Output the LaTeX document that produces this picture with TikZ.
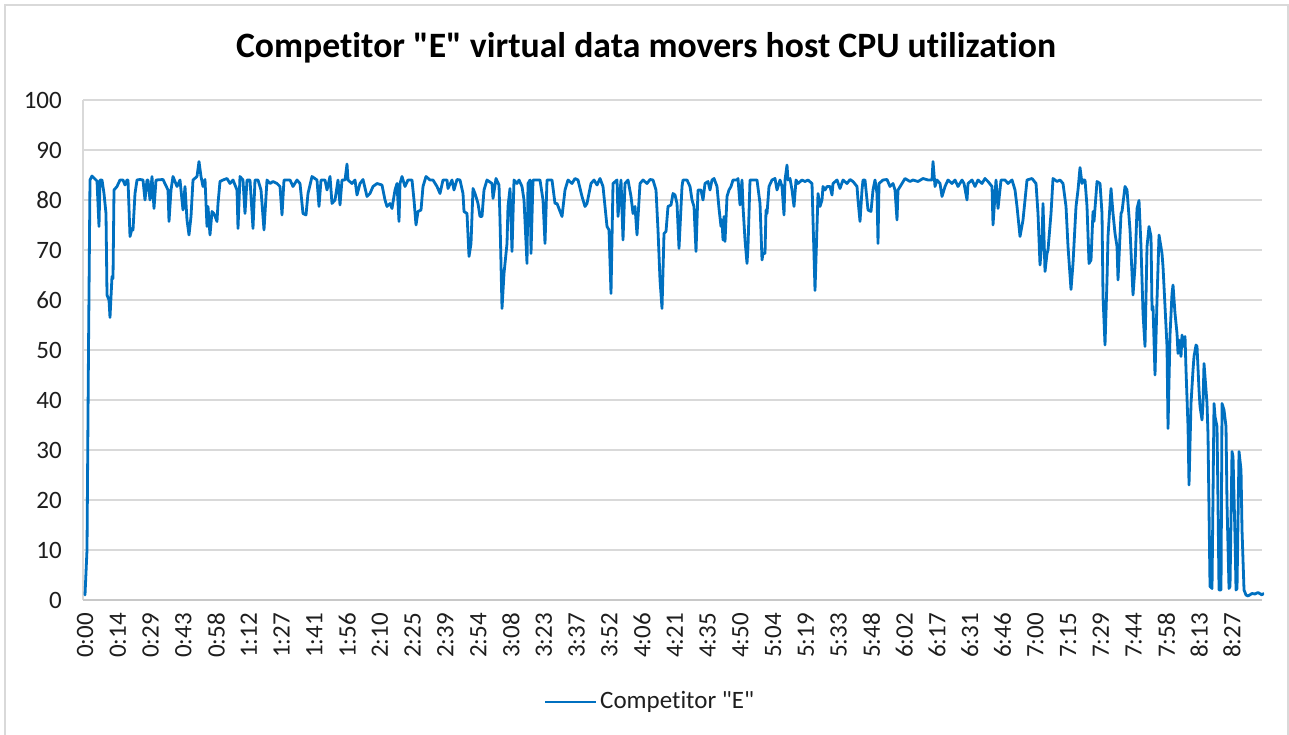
\documentclass[tikz,border=0pt]{standalone}
\usepackage{fontspec}
\setmainfont{Carlito}[Ligatures={TeXOff,NoCommon}]
\definecolor{series}{RGB}{0,112,192}
\definecolor{gridc}{RGB}{217,217,217}
\definecolor{axisc}{RGB}{200,200,200}
\definecolor{txtc}{RGB}{30,30,30}
\tikzset{
  serieslines/.style={draw=series,line width=2.8pt,line join=round,line cap=round},
  gridline/.style={draw=gridc,line width=1.3pt},
  ticklab/.style={font=\fontsize{25}{25}\selectfont,text=txtc,inner sep=0pt},
  titlelab/.style={font=\fontsize{35.7}{35.7}\selectfont\bfseries,text=black,inner sep=0pt},
  framebox/.style={draw=gridc,line width=2pt}
}
\begin{document}
\begin{tikzpicture}[x={(1pt,0)},y={(0,-1pt)}]
\useasboundingbox (0,0) rectangle (1289,735);
\fill[white] (0,0) rectangle (1289,735);
% outer chart frame
\draw[framebox] (5,740) -- (5,5) -- (1288,5) -- (1288,740);
% title
\node[titlelab] (title) at (646,48) {Competitor "E" virtual data movers host CPU utilization};
% gridlines and y labels
\foreach \v [count=\k from 0] in {100,90,80,70,60,50,40,30,20,10} {
  \draw[gridline] (83,{100+50*\k}) -- (1262,{100+50*\k});
  \node[ticklab,anchor=east] (ylab\v) at (62,{100+50*\k}) {\v};
}
\node[ticklab,anchor=east] (ylab0) at (62,600) {0};
\draw[gridline] (83,100) -- (83,600);
\draw[draw=axisc,line width=1.3pt] (83,600) -- (1262,600);
% x labels
\foreach \lab [count=\i from 0] in {0:00,0:14,0:29,0:43,0:58,1:12,1:27,1:41,1:56,2:10,2:25,2:39,2:54,3:08,3:23,3:37,3:52,4:06,4:21,4:35,4:50,5:04,5:19,5:33,5:48,6:02,6:17,6:31,6:46,7:00,7:15,7:29,7:44,7:58,8:13,8:27} {
  \node[ticklab,rotate=90,anchor=east] (xlab\i) at ({85+32.77*\i},613) {\lab};
}
% data series
\begin{scope}[shift={(0pt,-600pt)},y={(0,5pt)}]
\draw[serieslines] plot coordinates {
(85,1) (87,10) (88.5,50) (90,84) (92,84.8) (97,83.8) (99,74.7) (100,84) (102,84) (104,81.3) (106,77.3) (107,61) (109,60) (110,56.5) (112,64.7) (113,64.3) (114,82) (117,82.7) (120,84) (123,84) (125,83) (127,84) (128,84) (130,72.7) (132,74.3) (133,74) (135,81.3) (137,84) (140,84.1) (143,84) (145,80) (147,84) (148,84) (150,80) (152,84.7) (154,78.3) (156,84) (163,84.1) (168,82) (169,75.7) (171,82) (173,84.7) (177,82.7) (180,84) (183,78) (185,82.7) (187,76) (189,73) (191,76.7) (193,84) (197,84.7) (199,87.7) (201,84.7) (203,82.7) (205,84.1) (207,74.7) (208,78.7) (210,73) (212,77.7) (214,77.3) (217,75.7) (218,79.3) (220,83.7) (223,84) (227,84.3) (230,83.3) (233,84) (237,82) (238,74.3) (240,84.7) (243,84) (245,77.3) (247,84) (250,84) (253,74.3) (255,84) (258,84) (261,82) (264,74) (267,84) (270,83.3) (273,83.7) (277,83.3) (280,82.7) (282,77) (284,84) (290,84) (293,82.7) (297,84) (300,83.3)
(303,77.3) (306,77) (308,81.3) (312,84.7) (317,84) (319,78.7) (321,84) (325,84) (327,82) (330,84.7) (332,79.3) (335,80) (338,84) (340,79) (342,84) (345,84) (347,87.2) (348,84) (352,83.3) (355,84) (357,81) (360,83.3) (363,84.1) (367,80.7) (370,81.3) (373,82.7) (377,83.3) (382,83) (385,80) (387,78.7) (390,79.3) (392,78.3) (395,82) (397,83.3) (399,75.7) (400,83.3) (402,84.7) (405,82.7) (408,84) (412,84) (414,80) (416,75) (418,77.7) (421,78) (423,82.7) (426,84.7) (430,84) (433,84) (437,82.7) (440,81.3) (443,84) (447,84) (448,82.3) (452,84) (454,82) (457,84.1) (460,84) (463,81.3) (464,77.7) (467,77.3) (469,68.7) (471,71.3) (473,82.3) (475,81.3) (477,80) (478,79.3) (480,76.7) (482,76.7) (484,82) (487,84) (492,83.3) (493,80.3) (496,84.3) (499,83) (500,76) (502,58.3) (504,65.3) (507,71.3) (508,78.7) (510,82.3) (512,69.7) (514,84) (517,83.3) (519,84) (522,82.7) (524,80) (527,67.3) (528,83.3) (530,84) (531,69.3) (533,84) (537,84) (540,84) (543,80) (545,71.3) (547,84) (552,84) (555,79.3) (557,79.3) (562,76.7) (565,82) (568,84) (572,83.3) (575,84.3) (578,84) (582,80.7) (585,78.7) (587,79.3) (591,83.3) (594,84) (597,83) (600,84.3) (603,82.7) (607,74.7) (609,74) (611,61.3) (613,83.3) (617,84) (618,76.7) (621,84) (623,72) (625,83.3) (628,84) (631,80.7) (633,77.3) (635,78.7) (637,73) (640,83.3) (643,84) (647,83.3) (650,84.1) (653,84) (656,82) (658,74) (660,64) (662,58.3) (664,73.3) (666,73.7) (668,78.7) (671,79) (673,81.3) (675,81) (677,79.3) (679,70.3) (682,82.7) (683,84) (687,84) (690,82.7) (692,80) (694,78.7) (696,69.7) (698,82)
(701,82) (703,80) (705,83.3) (708,83.7) (710,82) (712,84) (714,84.3) (717,82.7) (719,78.3) (721,74.7) (722,76) (723,72) (724,76.7) (725,71.7) (727,80.7) (729,82) (731,82.7) (733,84) (737,84) (738,84.3) (740,79) (742,84) (743,78.7) (745,72) (747,67.3) (748,70.7) (750,84) (753,84) (757,84) (760,79.3) (762,68) (763,69.3) (765,69.3) (766,78) (767,77.3) (769,82.7) (772,84) (775,84.3) (777,82) (780,84) (782,82.7) (784,77) (785,84) (787,87) (788,84) (790,84.3) (792,82) (794,78.7) (796,84) (798,83.3) (802,84) (805,83.7) (808,84) (812,83.3) (813,76) (815,61.9) (817,74.7) (818,81.3) (820,78.7) (822,80) (823,82.7) (825,82) (827,82.7) (830,82.7) (832,81) (833,83.3) (837,84) (840,82.3) (843,84) (847,83.3) (850,84.1) (853,83.7) (857,82.7) (858,80) (860,75.7) (862,82) (863,84) (865,84) (867,80) (868,78) (871,77.7) (873,82) (875,84) (877,81.3) (878,71.3) (879,83.3) (883,84) (887,84.1) (890,82.7) (893,83.3) (895,82) (897,76) (898,82) (902,83.3) (905,84.3) (910,83.7) (913,84) (918,83.7) (923,84.3) (928,84) (932,84) (933,87.7) (935,82.7) (937,84) (940,83.3) (942,80.7) (945,82.7) (948,84) (952,83.3) (955,84) (958,82.7) (962,84) (964,83.3) (967,80) (968,83.3) (972,84) (975,82.7) (978,84) (982,83.3) (985,84.3) (988,83.7) (992,82.7) (993,75) (996,84) (998,78.3)
(1001,84) (1005,84) (1008,83.3) (1012,84) (1015,82) (1017,78.7) (1020,72.7) (1023,76) (1027,84) (1032,84.3) (1036,83.3) (1038,77.3) (1040,67) (1042,72) (1043,79.3) (1045,65.7) (1047,69.3) (1048,70) (1051,77.3) (1053,84.3) (1057,83.7) (1060,84) (1063,83.3) (1066,78.7) (1068,70.7) (1071,62.1) (1073,67.3) (1076,78.7) (1078,82) (1080,86.5) (1082,83.3) (1083,84) (1085,84) (1087,78.7) (1089,67.3) (1091,68) (1093,77.7) (1094,75.7) (1097,83.7) (1100,83.3) (1102,77.3) (1103,60.7) (1105,51) (1107,64) (1108,72.7) (1111,82.3) (1113,77.3) (1115,73.3) (1117,70.7) (1118,64) (1121,77.3) (1122,77.7) (1125,82.7) (1127,82) (1130,74) (1132,65.3) (1133,61) (1135,66.7) (1137,78.3) (1139,79.9) (1141,70.7) (1143,57.3) (1145,50.7) (1147,70.7) (1149,74.7) (1151,72.7) (1152,58) (1153,58.7) (1155,45) (1157,60) (1159,73) (1162,69.3) (1163,66.7) (1167,50.7) (1168,34.3) (1170,53) (1172,61.3) (1173,63) (1175,57.3) (1177,53.3) (1178,49.3) (1179,52) (1181,48.7) (1182,53) (1183,50.7) (1185,52.7) (1186,46) (1188,34.7) (1189,23) (1191,39.3) (1193,46) (1194,48.7) (1196,51) (1197,50.7) (1199,42) (1200,38.7) (1202,36) (1203,39.3) (1204,47.3) (1206,42) (1207,39.3) (1208,33) (1210,2.7) (1212,2.3) (1214,39.3) (1215,36.7) (1217,34.7) (1218,19.3) (1219,2) (1221,2) (1222,39.3) (1224,38) (1226,34.7) (1227,19.3) (1229,2.3) (1230,2.7) (1232,29.7) (1233,28.7) (1235,12.7) (1236,2) (1237,2.3) (1239,29.7) (1241,26) (1242,14) (1244,2) (1246,1) (1248,0.8) (1252,1.3) (1255,1.2) (1258,1.5) (1262,1) (1263,1.3)
};
\end{scope}
% legend
\coordinate (legA) at (545,702);
\coordinate (legB) at (596,702);
\draw[serieslines,line cap=butt] (legA) -- (legB);
\node[ticklab,anchor=west] (legtext) at (600,702) {Competitor "E"};
\end{tikzpicture}
\end{document}
